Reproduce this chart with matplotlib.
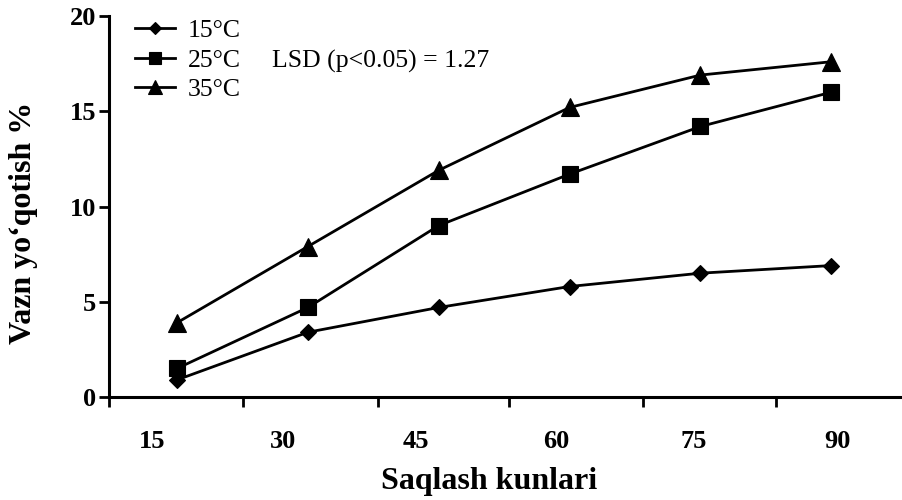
import matplotlib
matplotlib.use("Agg")
import matplotlib.pyplot as plt

# ---- data ----
days = [15, 30, 45, 60, 75, 90]
tick_labels = ["15", "30", "45", "60", "75", "90"]
series_names = ["15°C", "25°C", "35°C"]
loss_15 = [0.9, 3.4, 4.7, 5.8, 6.5, 6.9]
loss_25 = [1.5, 4.7, 9.0, 11.7, 14.2, 16.0]
loss_35 = [3.9, 7.9, 11.9, 15.2, 16.9, 17.6]
y_ticks = [0, 5, 10, 15, 20]
lsd_text = "LSD (p<0.05) = 1.27"
xlabel = "Saqlash kunlari"
ylabel = "Vazn yo\u2018qotish %"

# ---- layout (axis positions in day units) ----
x_left, x_right = 7.2, 98.1
tick_mark_pos = [7.2, 22.57, 38.05, 53.07, 68.44, 83.69]
label_pos = [12.13, 27.15, 42.4, 58.5, 74.2, 90.7]

plt.rcParams['font.family'] = ['Liberation Serif', 'DejaVu Serif']

fig = plt.figure(figsize=(9.02, 5.0), dpi=100)
ax = fig.add_axes([109 / 902, 103 / 500, 793 / 902, 381 / 500])

styles = [("D", 8.2), ("s", 11.5), ("^", 12.5)]
lines = []
for vals, name, (mk, ms) in zip([loss_15, loss_25, loss_35], series_names, styles):
    ln, = ax.plot(days, vals, color="black", lw=2.0, marker=mk, ms=ms,
                  markerfacecolor="black", markeredgecolor="black",
                  markeredgewidth=0.8, label=name, clip_on=False)
    lines.append(ln)

ax.set_xlim(x_left, x_right)
ax.set_ylim(0, 20)

for s in ["top", "right"]:
    ax.spines[s].set_visible(False)
for s in ["left", "bottom"]:
    ax.spines[s].set_linewidth(2.2)

ax.set_yticks(y_ticks)
ax.set_yticklabels([str(v) for v in y_ticks], fontsize=19, fontweight="bold")
ax.tick_params(axis="y", direction="out", length=7, width=2.0, pad=2)

ax.set_xticks(tick_mark_pos)
ax.set_xticklabels([""] * len(tick_mark_pos))
ax.tick_params(axis="x", which="major", direction="out", length=7, width=2.0)
ax.set_xticks(label_pos, minor=True)
ax.set_xticklabels(tick_labels, minor=True, fontsize=19, fontweight="bold")
ax.tick_params(axis="x", which="minor", length=0, pad=24)

ax.set_xlabel(xlabel, fontsize=23, fontweight="bold")
ax.xaxis.set_label_coords(0.479, -0.185)
ax.set_ylabel(ylabel, fontsize=23, fontweight="bold")
ax.yaxis.set_label_coords(-0.089, 0.457)

leg = ax.legend(handles=lines, loc="upper left",
                bbox_to_anchor=(135 / 902, 1 - 19 / 500),
                bbox_transform=fig.transFigure, frameon=False,
                fontsize=18.5, borderpad=0, borderaxespad=0,
                handlelength=1.55, handletextpad=0.5, labelspacing=0.26,
                markerscale=0.8)

fig.text(272 / 902, 1 - 61 / 500, lsd_text, fontsize=18.5, va="center", ha="left")

fig.savefig("out.png", dpi=100)
